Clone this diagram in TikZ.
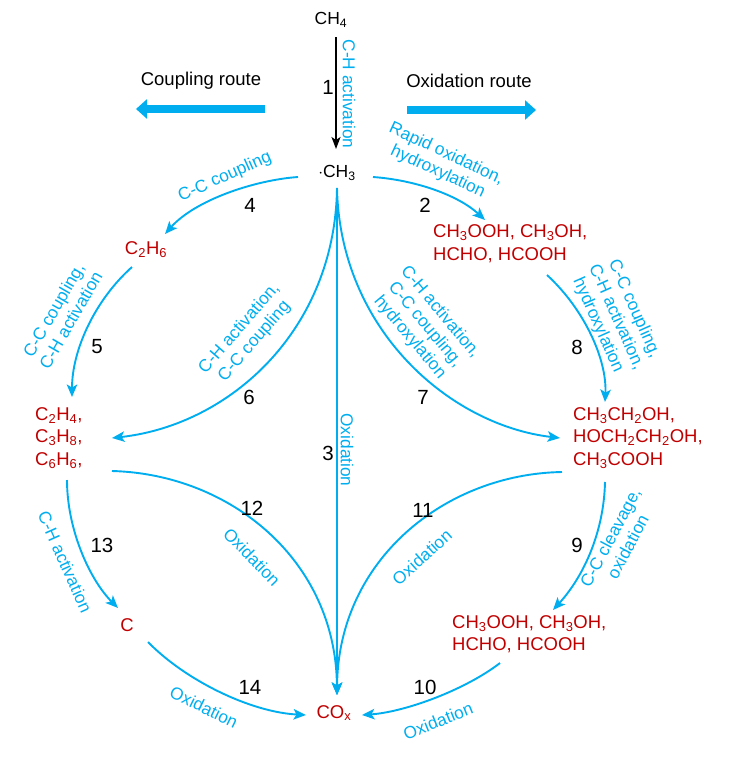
\documentclass[tikz,border=0pt]{standalone}
\usepackage{fontspec}
\setmainfont{Liberation Sans}
\usetikzlibrary{arrows.meta}
\definecolor{cyanblue}{RGB}{0,174,239}
\definecolor{chemred}{RGB}{192,0,0}
\tikzset{
  chem/.style={text=chemred, font=\fontsize{18.5}{22.5}\selectfont, align=left, inner sep=0pt},
  blk/.style={text=black, font=\fontsize{17.5}{21}\selectfont, inner sep=0pt},
  num/.style={text=black, font=\fontsize{20.5}{23}\selectfont, inner sep=0pt},
  lbl/.style={text=cyanblue, font=\fontsize{17.3}{19.8}\selectfont, align=center, inner sep=0pt},
  arr/.style={draw=cyanblue, line width=1.9pt, -{Stealth[length=12.5pt,width=10.5pt,inset=3pt]}},
  fat/.style={draw=cyanblue, line width=8.5pt, -{Triangle[length=11pt,width=19pt]}},
}
\begin{document}
\begin{tikzpicture}[x=1pt,y=-1pt]
\useasboundingbox (0,0) rectangle (743,761);

% species
\node[blk] (ch4) at (331,20) {CH\textsubscript{4}};
\node[blk] (ch3) at (337,173) {$\cdot$CH\textsubscript{3}};
\node[chem] (c2h6) at (146,250) {C\textsubscript{2}H\textsubscript{6}};
\node[chem, anchor=west] (olef) at (35,438) {C\textsubscript{2}H\textsubscript{4},\\C\textsubscript{3}H\textsubscript{8},\\C\textsubscript{6}H\textsubscript{6},};
\node[chem, anchor=west] (oxy1) at (433,243.5) {CH\textsubscript{3}OOH, CH\textsubscript{3}OH,\\HCHO, HCOOH};
\node[chem, anchor=west] (c2ox) at (573,438) {CH\textsubscript{3}CH\textsubscript{2}OH,\\HOCH\textsubscript{2}CH\textsubscript{2}OH,\\CH\textsubscript{3}COOH};
\node[chem, anchor=west] (oxy2) at (452,634) {CH\textsubscript{3}OOH, CH\textsubscript{3}OH,\\HCHO, HCOOH};
\node[chem] (carb) at (127,625) {C};
\node[chem] (cox) at (334,713) {CO\textsubscript{x}};

% route headers
\node[blk, font=\fontsize{18.5}{22}\selectfont] (crt) at (201,81) {Coupling route};
\node[blk, font=\fontsize{18.5}{22}\selectfont] (ort) at (469,81) {Oxidation route};
\coordinate (cra) at (265,109);
\coordinate (crb) at (136,109);
\coordinate (ora) at (407,110);
\coordinate (orb) at (536,110);
\draw[fat] (cra) -- (crb);
\draw[fat] (ora) -- (orb);

% connector end points
\coordinate (s1) at (336,37);
\coordinate (e1) at (336,149);
\coordinate (s3) at (337,188);
\coordinate (e3) at (337,695);
\coordinate (s4) at (298,177);
\coordinate (e4) at (165,234);
\coordinate (s2) at (373,177);
\coordinate (e2) at (485,220);
\coordinate (s5) at (132,267);
\coordinate (e5) at (72,397);
\coordinate (e6) at (112,438);
\coordinate (e7) at (560,438);
\coordinate (s8) at (547,275);
\coordinate (e8) at (605,402);
\coordinate (s12) at (112,471);
\coordinate (s11) at (562,472);
\coordinate (s13) at (67,480);
\coordinate (e13) at (118,608);
\coordinate (s9) at (605,482);
\coordinate (e9) at (553,610);
\coordinate (s14) at (148,642);
\coordinate (e14) at (306,715);
\coordinate (s10) at (500,663);
\coordinate (e10) at (362,715);

% connectors
\draw[line width=1.6pt, -{Stealth[length=12pt,width=9pt,inset=3pt]}] (s1) -- (e1);
\draw[arr] (s3) -- (e3);
\draw[arr] (s4) .. controls (255,180) and (195,200) .. (e4);
\draw[arr] (s2) .. controls (415,180) and (458,195) .. (e2);
\draw[arr] (s5) .. controls (95,300) and (72,350) .. (e5);
\draw[arr] (s3) .. controls (335,330) and (230,425) .. (e6);
\draw[arr] (s3) .. controls (340,330) and (450,425) .. (e7);
\draw[arr] (s8) .. controls (585,310) and (607,360) .. (e8);
\draw[arr] (s12) .. controls (230,474) and (336,560) .. (e3);
\draw[arr] (s11) .. controls (445,474) and (338,560) .. (e3);
\draw[arr] (s13) .. controls (67,530) and (90,580) .. (e13);
\draw[arr] (s9) .. controls (604,530) and (585,575) .. (e9);
\draw[arr] (s14) .. controls (185,680) and (250,712) .. (e14);
\draw[arr] (s10) .. controls (465,690) and (405,712) .. (e10);

% step numbers
\node[num] (n1) at (328,87) {1};
\node[num] (n2) at (425,205) {2};
\node[num] (n3) at (328,453) {3};
\node[num] (n4) at (250,205) {4};
\node[num] (n5) at (97,347) {5};
\node[num] (n6) at (249,397) {6};
\node[num] (n7) at (423,397) {7};
\node[num] (n8) at (577,347) {8};
\node[num] (n9) at (577,545) {9};
\node[num] (n10) at (425,687) {10};
\node[num] (n11) at (423,510) {11};
\node[num] (n12) at (252,508) {12};
\node[num] (n13) at (102,545) {13};
\node[num] (n14) at (250,687) {14};

% reaction labels
\node[lbl, rotate=-90] (l1) at (349,94) {C-H activation};
\node[lbl, rotate=-90] (l3) at (347,450) {Oxidation};
\node[lbl, rotate=24] (l4) at (225,177) {C-C coupling};
\node[lbl, rotate=-25] (l2) at (442,163) {Rapid oxidation,\\hydroxylation};
\node[lbl, rotate=60] (l5) at (62,315) {C-C coupling,\\C-H activation};
\node[lbl, rotate=49] (l6) at (247,335) {C-H activation,\\C-C coupling};
\node[lbl, rotate=-50] (l7) at (425,325) {C-H activation,\\C-C coupling,\\hydroxylation};
\node[lbl, rotate=-66] (l8) at (616,317) {C-C coupling,\\C-H activation,\\hydroxylation};
\node[lbl, rotate=-46] (l12) at (252,557) {Oxidation};
\node[lbl, rotate=42] (l11) at (422,557) {Oxidation};
\node[lbl, rotate=-66] (l13) at (65,562) {C-H activation};
\node[lbl, rotate=62] (l9) at (619,542) {C-C cleavage,\\oxidation};
\node[lbl, rotate=-26] (l14) at (204,707) {Oxidation};
\node[lbl, rotate=22] (l10) at (438,721) {Oxidation};
\end{tikzpicture}
\end{document}
